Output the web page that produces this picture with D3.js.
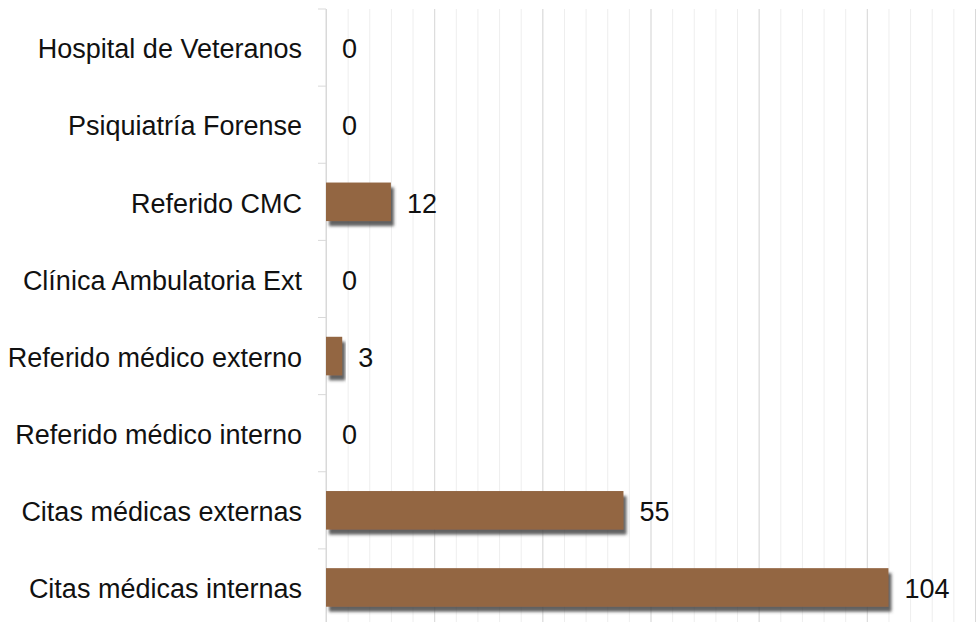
<!DOCTYPE html>
<html>
<head>
<meta charset="utf-8">
<script src="https://cdn.jsdelivr.net/npm/d3@7"></script>
<style>
	body { margin: 0; background: #fff; }
	svg { display: block; }
	text { font-family: "Liberation Sans", Arial, sans-serif; fill: #111; }
</style>
</head>
<body>
<svg width="976" height="622"></svg>
<script>

// categories top to bottom, as in the picture
const categories = [
	'Hospital de Veteranos',
	'Psiquiatría Forense',
	'Referido CMC',
	'Clínica Ambulatoria Ext',
	'Referido médico externo',
	'Referido médico interno',
	'Citas médicas externas',
	'Citas médicas internas'
];
const values = [0, 0, 12, 0, 3, 0, 55, 104];

const majorTicks = [0, 20, 40, 60, 80, 100, 120];
const minorTicks = d3.range(0, 121, 4);

const MARGIN = { top: 9, right: 1, bottom: -4, left: 326 };

function whenDocumentLoaded(action) {
	if (document.readyState === 'loading') {
		document.addEventListener('DOMContentLoaded', action);
	} else {
		action();
	}
}

whenDocumentLoaded(() => {

	let svg = d3.select('svg');
	const width = svg.attr('width') - MARGIN.left - MARGIN.right;
	const height = svg.attr('height') - MARGIN.top - MARGIN.bottom;

	// shadow under the bars
	const defs = svg.append('defs');
	const f = defs.append('filter')
	.attr('id', 'shadow')
	.attr('x', '-10%').attr('y', '-30%')
	.attr('width', '130%').attr('height', '180%');
	f.append('feDropShadow')
	.attr('dx', 3).attr('dy', 5)
	.attr('stdDeviation', 1.8)
	.attr('flood-color', '#444444')
	.attr('flood-opacity', 0.85);

	const g = svg.append('g')
	.attr('transform', 'translate(' + MARGIN.left + ' ' + MARGIN.top + ')');

	const data = categories.map((c, i) => ({ name: c, value: values[i] }));

	const x = d3.scaleLinear()
	.domain([0, 120])
	.range([0, width]);

	const y = d3.scaleBand()
	.domain(categories)
	.range([0, height])
	.paddingInner(0.5)
	.paddingOuter(0.25);

	// minor gridlines
	g.append('g')
	.call(d3.axisBottom(x).tickValues(minorTicks).tickSize(height + 20).tickFormat(''))
	.call(a => a.select('.domain').remove())
	.selectAll('line')
	.attr('stroke', '#eeeeee')
	.attr('stroke-width', 1);

	// major gridlines
	g.append('g')
	.call(d3.axisBottom(x).tickValues(majorTicks).tickSize(height + 20).tickFormat(''))
	.call(a => a.select('.domain').remove())
	.selectAll('line')
	.attr('stroke', '#d9d9d9')
	.attr('stroke-width', 1);

	// category axis line and boundary ticks
	const bounds = d3.range(categories.length + 1).map(i => i * y.step());
	g.append('line')
	.attr('x1', 0).attr('x2', 0)
	.attr('y1', 0).attr('y2', height + 20)
	.attr('stroke', '#d9d9d9');
	g.selectAll('.cat-tick')
	.data(bounds)
	.enter()
	.append('line')
	.attr('class', 'cat-tick')
	.attr('x1', -8).attr('x2', 0)
	.attr('y1', d => d).attr('y2', d => d)
	.attr('stroke', '#d9d9d9');

	// category labels
	g.selectAll('.cat-label')
	.data(data)
	.enter()
	.append('text')
	.attr('class', 'cat-label')
	.attr('x', -24)
	.attr('y', d => y(d.name) + y.bandwidth() / 2)
	.attr('dy', '0.4em')
	.attr('text-anchor', 'end')
	.style('font-size', '27px')
	.text(d => d.name);

	// bars
	g.selectAll('.bar')
	.data(data.filter(d => d.value > 0))
	.enter()
	.append('rect')
	.attr('class', 'bar')
	.attr('x', x(0))
	.attr('y', d => y(d.name))
	.attr('width', d => x(d.value) - x(0))
	.attr('height', y.bandwidth())
	.attr('fill', '#936643')
	.attr('filter', 'url(#shadow)');

	// value labels
	g.selectAll('.val')
	.data(data)
	.enter()
	.append('text')
	.attr('class', 'val')
	.attr('x', d => x(d.value) + 16)
	.attr('y', d => y(d.name) + y.bandwidth() / 2)
	.attr('dy', '0.4em')
	.style('font-size', '27px')
	.text(d => d.value);

});
</script>
</body>
</html>
